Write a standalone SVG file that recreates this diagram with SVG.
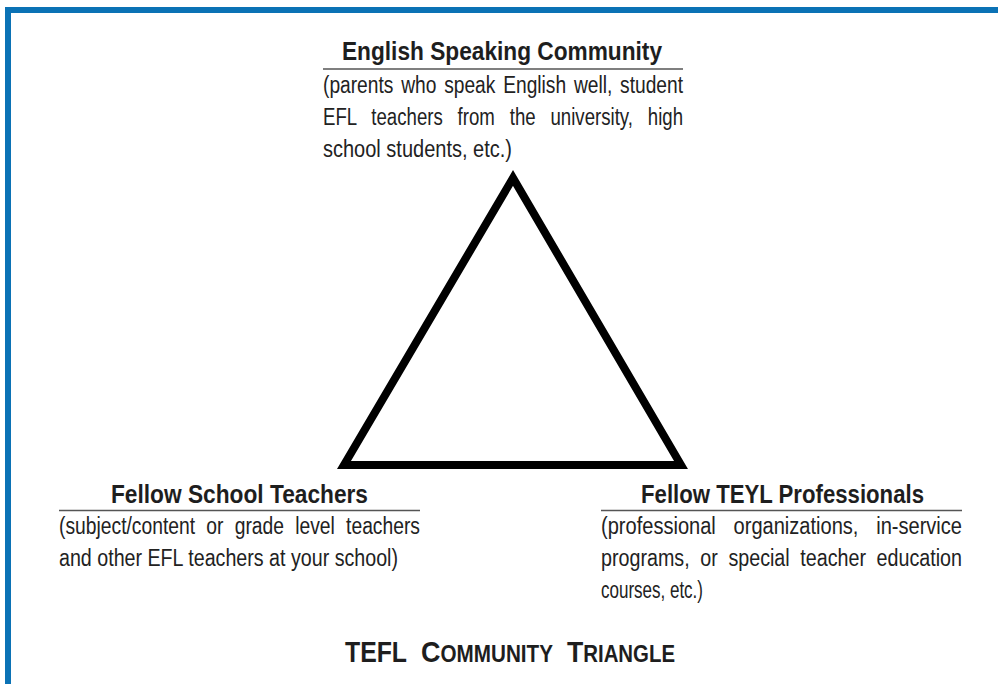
<svg xmlns="http://www.w3.org/2000/svg" width="998" height="684" viewBox="0 0 998 684">
<style>
  .frame { fill: #0b72b5; }
  .tri { fill: #ffffff; stroke: #000000; stroke-width: 8; stroke-linejoin: miter; stroke-miterlimit: 10; }
  .title { font-family: "Liberation Sans Narrow", "Liberation Sans", Arial, sans-serif; font-weight: bold; font-size: 25px; fill: #1e1e1e; }
  .body { font-family: "Liberation Sans Narrow", "Liberation Sans", Arial, sans-serif; font-size: 23px; fill: #222222; }
  .rule { stroke: #555555; stroke-width: 1.3; }
  .caption { font-family: "Liberation Sans Narrow", "Liberation Sans", Arial, sans-serif; font-weight: bold; fill: #1e1e1e; }
</style>
<rect x="0" y="0" width="998" height="684" fill="#ffffff"/>
<g id="frame">
  <rect class="frame" x="5" y="7" width="993" height="6"/>
  <rect class="frame" x="5" y="7" width="6" height="677"/>
</g>
<g id="triangle">
  <polygon class="tri" points="513,178 344,465 681,465"/>
</g>
<g id="node-english-speaking-community">
  <text class="title" x="502" y="60" text-anchor="middle" textLength="320" lengthAdjust="spacingAndGlyphs">English Speaking Community</text>
  <line class="rule" x1="323" y1="69" x2="683" y2="69"/>
  <text class="body" x="323" y="93" textLength="360" lengthAdjust="spacingAndGlyphs" word-spacing="3">(parents who speak English well, student</text>
  <text class="body" x="323" y="125" textLength="360" lengthAdjust="spacingAndGlyphs" word-spacing="12">EFL teachers from the university, high</text>
  <text class="body" x="323" y="157" textLength="189" lengthAdjust="spacingAndGlyphs">school students, etc.)</text>
</g>
<g id="node-fellow-school-teachers">
  <text class="title" x="239.5" y="503" text-anchor="middle" textLength="257" lengthAdjust="spacingAndGlyphs">Fellow School Teachers</text>
  <line class="rule" x1="59" y1="510.5" x2="420" y2="510.5"/>
  <text class="body" x="59" y="534" textLength="361" lengthAdjust="spacingAndGlyphs" word-spacing="7">(subject/content or grade level teachers</text>
  <text class="body" x="59" y="566" textLength="339" lengthAdjust="spacingAndGlyphs">and other EFL teachers at your school)</text>
</g>
<g id="node-fellow-teyl-professionals">
  <text class="title" x="782.5" y="503" text-anchor="middle" textLength="283" lengthAdjust="spacingAndGlyphs">Fellow TEYL Professionals</text>
  <line class="rule" x1="601" y1="510.5" x2="962" y2="510.5"/>
  <text class="body" x="601" y="534" textLength="361" lengthAdjust="spacingAndGlyphs" word-spacing="14">(professional organizations, in-service</text>
  <text class="body" x="601" y="566" textLength="361" lengthAdjust="spacingAndGlyphs" word-spacing="6">programs, or special teacher education</text>
  <text class="body" x="601" y="598" textLength="102" lengthAdjust="spacingAndGlyphs">courses, etc.)</text>
</g>
<g id="caption">
  <text class="caption" x="345" y="662" font-size="30" textLength="62" lengthAdjust="spacingAndGlyphs">TEFL</text>
  <text class="caption" x="421" y="662" textLength="132" lengthAdjust="spacingAndGlyphs"><tspan font-size="30">C</tspan><tspan font-size="23">OMMUNITY</tspan></text>
  <text class="caption" x="567" y="662" textLength="108" lengthAdjust="spacingAndGlyphs"><tspan font-size="30">T</tspan><tspan font-size="23">RIANGLE</tspan></text>
</g>
</svg>
